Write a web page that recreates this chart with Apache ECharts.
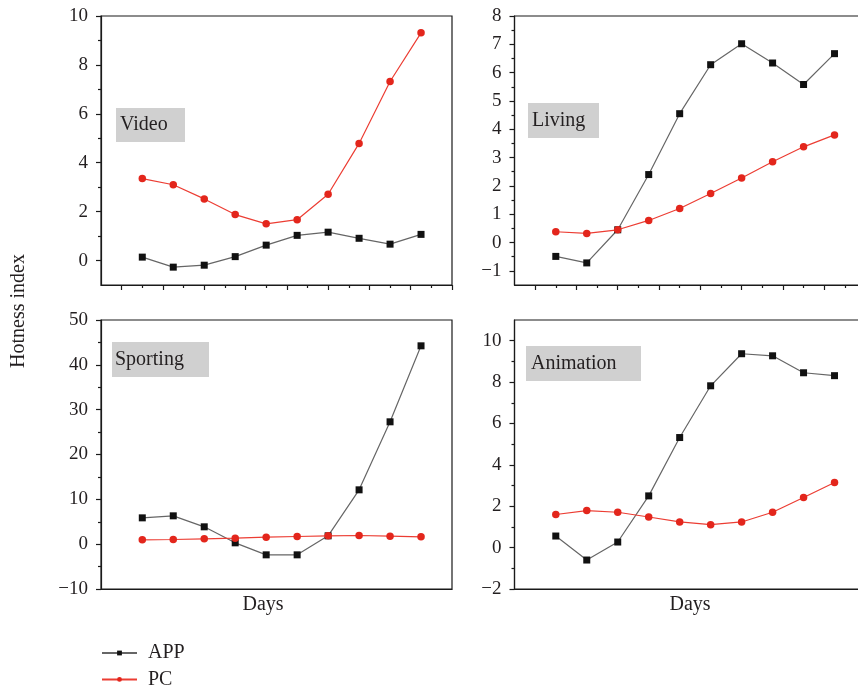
<!DOCTYPE html>
<html><head><meta charset="utf-8">
<script src="https://cdn.jsdelivr.net/npm/echarts@6/dist/echarts.min.js"></script>
<style>html,body{margin:0;padding:0;background:#fff}#c{width:858px;height:689px}</style>
</head><body><div id="c"></div>
<script>
// ---- data ----
const days = [1, 2, 3, 4, 5, 6, 7, 8, 9, 10];
const videoApp = [0.14, -0.27, -0.19, 0.16, 0.63, 1.03, 1.16, 0.91, 0.67, 1.07];
const videoPc = [3.35, 3.10, 2.52, 1.88, 1.50, 1.67, 2.71, 4.79, 7.32, 9.31];
const livingApp = [-0.49, -0.72, 0.45, 2.40, 4.55, 6.28, 7.02, 6.34, 5.58, 6.67];
const livingPc = [0.38, 0.32, 0.45, 0.78, 1.20, 1.73, 2.28, 2.85, 3.38, 3.80];
const sportingApp = [5.87, 6.32, 3.87, 0.30, -2.38, -2.38, 1.86, 12.12, 27.29, 44.24];
const sportingPc = [0.97, 1.04, 1.19, 1.34, 1.56, 1.71, 1.86, 1.93, 1.78, 1.64];
const animationApp = [0.56, -0.60, 0.27, 2.50, 5.32, 7.82, 9.37, 9.27, 8.45, 8.31];
const animationPc = [1.60, 1.79, 1.71, 1.48, 1.24, 1.11, 1.24, 1.71, 2.42, 3.15];
const panelNames = ['Video', 'Living', 'Sporting', 'Animation'];
const seriesNames = ['APP', 'PC'];
const xRange = [-1/3, 11];
const xMajorTicks = [1/3, 5/3, 3, 13/3, 17/3, 7, 25/3, 29/3, 11];
const xMinorTicks = [1, 7/3, 11/3, 5, 19/3, 23/3, 9, 31/3];
const yRanges = [[-1, 10], [-1.5, 8], [-10, 50], [-2, 11]];
const yTickLabels = [
  [0, 2, 4, 6, 8, 10],
  [-1, 0, 1, 2, 3, 4, 5, 6, 7, 8],
  [-10, 0, 10, 20, 30, 40, 50],
  [-2, 0, 2, 4, 6, 8, 10]
];
const yMinorTicks = [
  [1, 3, 5, 7, 9],
  [-0.5, 0.5, 1.5, 2.5, 3.5, 4.5, 5.5, 6.5, 7.5],
  [-5, 5, 15, 25, 35, 45],
  [-1, 1, 3, 5, 7, 9]
];
const yAxisTitle = 'Hotness index';
const xAxisTitle = 'Days';

// ---- layout / style ----
const FONT = 'Liberation Serif';
const TXT = '#231f20';
const AX = '#1a1a1a';
const rects = [
  {left: 101, top: 16}, {left: 514.5, top: 16},
  {left: 101, top: 320}, {left: 514.5, top: 320}
];
const GW = 351, GH = 269;
const boxes = [
  {x: 116, y: 108, w: 69, h: 34, tx: 4},
  {x: 528, y: 103, w: 71, h: 35, tx: 4},
  {x: 112, y: 342, w: 97, h: 35, tx: 3},
  {x: 526, y: 346, w: 115, h: 35, tx: 5}
];
const panelData = [[videoApp, videoPc], [livingApp, livingPc], [sportingApp, sportingPc], [animationApp, animationPc]];

const grid = [], xAxis = [], yAxis = [], series = [], graphic = [];
for (let i = 0; i < 4; i++) {
  const r = rects[i];
  const isTop = i < 2;
  grid.push({left: r.left, top: r.top, width: GW, height: GH, show: true, borderColor: AX, borderWidth: 1.2, backgroundColor: 'transparent', containLabel: false, outerBoundsMode: 'none'});
  xAxis.push({
    type: 'value', gridIndex: i, min: xRange[0], max: xRange[1],
    axisLine: {show: true, onZero: false, lineStyle: {color: AX, width: 1.2}},
    axisTick: {show: isTop, inside: false, length: 5, customValues: xMajorTicks, lineStyle: {color: AX, width: 1.2}},
    axisLabel: {show: false},
    splitLine: {show: false},
    name: isTop ? '' : xAxisTitle,
    nameLocation: 'middle', nameGap: 6,
    nameTextStyle: {fontFamily: FONT, fontSize: 20, color: TXT, padding: i === 2 ? [0, 27, 0, 0] : 0}
  });
  yAxis.push({
    type: 'value', gridIndex: i, min: yRanges[i][0], max: yRanges[i][1],
    axisLine: {show: true, onZero: false, lineStyle: {color: AX, width: 1.2}},
    axisTick: {show: true, inside: false, length: 5, customValues: yTickLabels[i], lineStyle: {color: AX, width: 1.2}},
    axisLabel: {show: true, customValues: yTickLabels[i], margin: 13, fontFamily: FONT, fontSize: 19, color: TXT,
      formatter: v => (v < 0 ? '\u2212' + Math.abs(v) : String(v))},
    splitLine: {show: false}
  });
  const d = panelData[i];
  series.push({
    name: seriesNames[0], type: 'line', xAxisIndex: i, yAxisIndex: i,
    data: days.map((x, k) => [x, d[0][k]]),
    symbol: 'rect', symbolSize: 7,
    lineStyle: {color: '#666666', width: 1.2},
    itemStyle: {color: '#111111'},
    z: 2
  });
  series.push({
    name: seriesNames[1], type: 'line', xAxisIndex: i, yAxisIndex: i,
    data: days.map((x, k) => [x, d[1][k]]),
    symbol: 'circle', symbolSize: 7.5,
    lineStyle: {color: '#ec3d33', width: 1.2},
    itemStyle: {color: '#e3261c'},
    z: 3
  });
  const b = boxes[i];
  graphic.push({type: 'rect', left: b.x, top: b.y, shape: {width: b.w, height: b.h}, style: {fill: '#d0d0d0'}, z: 1});
  graphic.push({type: 'text', x: b.x + b.tx, y: b.y + b.h / 2, style: {text: panelNames[i], font: '20px "' + FONT + '"', fill: TXT, textVerticalAlign: 'middle', textAlign: 'left'}, z: 2});
}
// overlay grids for minor ticks
for (let i = 0; i < 4; i++) {
  const r = rects[i];
  const isTop = i < 2;
  grid.push({left: r.left, top: r.top, width: GW, height: GH, show: false, containLabel: false, outerBoundsMode: 'none'});
  xAxis.push({
    type: 'value', gridIndex: 4 + i, min: xRange[0], max: xRange[1], position: 'bottom',
    axisLine: {show: false, onZero: false}, axisLabel: {show: false}, splitLine: {show: false},
    axisTick: {show: isTop, inside: false, length: 3, customValues: xMinorTicks, lineStyle: {color: AX, width: 1.2}}
  });
  yAxis.push({
    type: 'value', gridIndex: 4 + i, min: yRanges[i][0], max: yRanges[i][1], position: 'left',
    axisLine: {show: false, onZero: false}, axisLabel: {show: false}, splitLine: {show: false},
    axisTick: {show: true, inside: false, length: 3, customValues: yMinorTicks[i], lineStyle: {color: AX, width: 1.2}}
  });
}
graphic.push({type: 'text', x: 19, y: 311, rotation: Math.PI / 2,
  style: {text: yAxisTitle, font: '20px "' + FONT + '"', fill: TXT, textAlign: 'center', textVerticalAlign: 'middle'}});

const chart = echarts.init(document.getElementById('c'), null, {renderer: 'canvas'});
chart.setOption({
  animation: false,
  backgroundColor: '#ffffff',
  grid, xAxis, yAxis, series, graphic,
  legend: {
    orient: 'vertical', left: 101, top: 643, height: 80, padding: 0,
    itemWidth: 35, itemHeight: 6, itemGap: 6.4,
    data: seriesNames,
    textStyle: {fontFamily: FONT, fontSize: 20, lineHeight: 16, color: TXT, padding: [0, 0, 0, 6]}
  }
});
</script></body></html>
